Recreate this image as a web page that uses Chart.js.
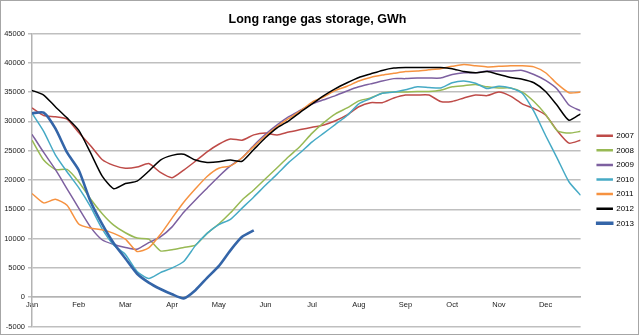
<!DOCTYPE html>
<html>
<head>
<meta charset="utf-8">
<title>Long range gas storage, GWh</title>
<script src="https://cdn.jsdelivr.net/npm/chart.js@4.4.0/dist/chart.umd.min.js"></script>
<style>
  html, body { margin: 0; padding: 0; background: #fff; }
  .frame { width: 639px; height: 335px; box-sizing: border-box; border: 1px solid #a6a6a6; }
  canvas { display: block; }
</style>
</head>
<body>
<div class="frame"><canvas id="gasChart" width="637" height="333"></canvas></div>
<script>
// month labels, one tick at the start of each month
const months = ['Jan', 'Feb', 'Mar', 'Apr', 'May', 'Jun', 'Jul', 'Aug', 'Sep', 'Oct', 'Nov', 'Dec'];

// sample positions in months from Jan 1 (every quarter month)
const samplePos = [
  0, 0.25, 0.5, 0.75, 1, 1.25, 1.5, 1.75, 2, 2.25, 2.5, 2.75,
  3, 3.25, 3.5, 3.75, 4, 4.25, 4.5, 4.75, 5, 5.25, 5.5, 5.75,
  6, 6.25, 6.5, 6.75, 7, 7.25, 7.5, 7.75, 8, 8.25, 8.5, 8.75,
  9, 9.25, 9.5, 9.75, 10, 10.25, 10.5, 10.75, 11, 11.25, 11.5, 11.75
];

// GWh in storage
const s2007 = [
  32300, 31000, 30800, 30400, 28100, 25900, 23500, 22500, 22000, 22200, 22800, 21300,
  20400, 21700, 23200, 24800, 26100, 27000, 26800, 27700, 28000, 27700, 28200, 28600,
  29000, 29400, 30100, 31100, 32500, 33200, 33200, 34000, 34500, 34500, 34500, 33400,
  33400, 34000, 34500, 34400, 35000, 34300, 33000, 32200, 31100, 28400, 26300, 26800
];
const s2008 = [
  26800, 23400, 21800, 21800, 19700, 16800, 14300, 12300, 11000, 10100, 9900, 7900,
  8100, 8500, 8900, 10900, 12500, 14400, 16600, 18300, 20200, 22100, 24000, 25800,
  28000, 29800, 31300, 32300, 33500, 34000, 34800, 35000, 35000, 35100, 35100, 35300,
  35900, 36100, 36300, 35900, 35700, 35700, 35000, 33400, 31200, 28400, 28000, 28300
];
const s2009 = [
  27800, 24700, 21800, 18500, 15200, 12000, 9800, 9000, 8500, 8200, 9300, 10300,
  12000, 14500, 16600, 18600, 20600, 22400, 23800, 25900, 27800, 29400, 30800, 31900,
  33000, 33700, 34400, 35200, 35900, 36400, 36900, 37300, 37300, 37400, 37400, 37400,
  38000, 38300, 38300, 38600, 38600, 38600, 38700, 38000, 37000, 35500, 32800, 31800
];
const s2010 = [
  31400, 28300, 24300, 21400, 18700, 15500, 11700, 8900, 7300, 4400, 3200, 4200,
  5000, 6100, 8800, 10900, 12400, 13300, 15200, 17100, 19100, 21000, 23000, 24700,
  26500, 28000, 29500, 31000, 33000, 33900, 34800, 35000, 35400, 35900, 35800, 35700,
  36600, 36900, 36500, 35600, 36000, 35700, 34800, 31700, 27600, 23700, 19700, 17400
];
const s2011 = [
  17700, 16100, 16700, 15700, 12500, 11800, 11500, 10900, 9900, 7800, 8400, 10700,
  13500, 16200, 18500, 20600, 22000, 22400, 23800, 25700, 27500, 29100, 30500, 31800,
  33300, 34200, 35300, 36000, 36900, 37500, 37900, 38200, 38500, 38600, 38800, 39000,
  39400, 39700, 39500, 39300, 39400, 39500, 39500, 39300, 38300, 36400, 34900, 35000
];
const s2012 = [
  35300, 34500, 32500, 30600, 28500, 24700, 20700, 18500, 19400, 19800, 21500, 23400,
  24200, 24400, 23400, 23000, 23100, 23400, 23200, 25200, 27200, 28900, 30100, 31600,
  33000, 34400, 35600, 36600, 37500, 38100, 38700, 39100, 39200, 39200, 39200, 39200,
  39000, 38500, 38300, 38500, 38000, 37500, 37200, 36600, 35100, 32700, 30200, 31300
];
const s2013 = [
  31400, 31500, 28800, 24700, 21700, 16400, 12500, 9200, 6600, 4000, 2500, 1400,
  500, -200, 1200, 3300, 5300, 8000, 10300, 11400
];

const seriesNames = ['2007', '2008', '2009', '2010', '2011', '2012', '2013'];
const seriesValues = [s2007, s2008, s2009, s2010, s2011, s2012, s2013];
const seriesColors = ['#BE4B48', '#98B954', '#7D60A0', '#46AAC5', '#F69240', '#000000', '#3465A8'];

const fontFamily = "'Liberation Sans', Arial, sans-serif";

const datasets = seriesNames.map((name, i) => ({
  label: name,
  data: seriesValues[i].map((v, j) => ({ x: samplePos[j], y: v })),
  borderColor: seriesColors[i],
  backgroundColor: seriesColors[i],
  borderWidth: name === '2013' ? 2.6 : 1.5,
  pointRadius: 0,
  tension: 0.2,
  fill: false,
  order: seriesNames.length - i
}));

// Excel puts the legend a bit further right and lower than chart.js does
const legendNudge = {
  id: 'legendNudge',
  afterLayout(chart) {
    const lg = chart.legend;
    lg.left += 10; lg.right += 10;
    lg.top += 14; lg.bottom += 14;
  }
};

const ctx = document.getElementById('gasChart').getContext('2d');
new Chart(ctx, {
  type: 'line',
  data: { datasets: datasets },
  plugins: [legendNudge],
  options: {
    responsive: false,
    animation: false,
    layout: { padding: { left: 0, right: 4, top: 0, bottom: 4 } },
    plugins: {
      title: {
        display: true,
        text: 'Long range gas storage, GWh',
        color: '#000',
        font: { family: fontFamily, size: 12.5, weight: 'bold' },
        padding: { top: 11, bottom: 6.5 }
      },
      legend: {
        position: 'right',
        labels: {
          boxWidth: 15,
          boxHeight: 1,
          padding: 6.6,
          color: '#000',
          font: { family: fontFamily, size: 8 },
          sort: (a, b) => a.datasetIndex - b.datasetIndex
        }
      },
      tooltip: { enabled: false }
    },
    scales: {
      x: {
        type: 'linear',
        min: 0,
        max: 11.75,
        position: { y: 0 },
        afterBuildTicks: (scale) => {
          scale.ticks = months.map((m, i) => ({ value: i }));
        },
        ticks: {
          callback: (v) => months[v],
          color: '#222',
          font: { family: fontFamily, size: 7.5 },
          maxRotation: 0,
          autoSkip: false,
          padding: 3
        },
        grid: { display: false, drawTicks: false },
        border: { color: '#b3b3b3', width: 1.5 }
      },
      y: {
        min: -5000,
        max: 45000,
        ticks: {
          stepSize: 5000,
          callback: (v) => String(v),
          color: '#222',
          font: { family: fontFamily, size: 7.5 },
          padding: 3
        },
        grid: { color: '#bfbfbf', lineWidth: 1.5, tickLength: 4 },
        border: { color: '#b3b3b3', width: 1.5 },
        afterFit: (scale) => { scale.width = 31; }
      }
    }
  }
});
</script>
</body>
</html>
